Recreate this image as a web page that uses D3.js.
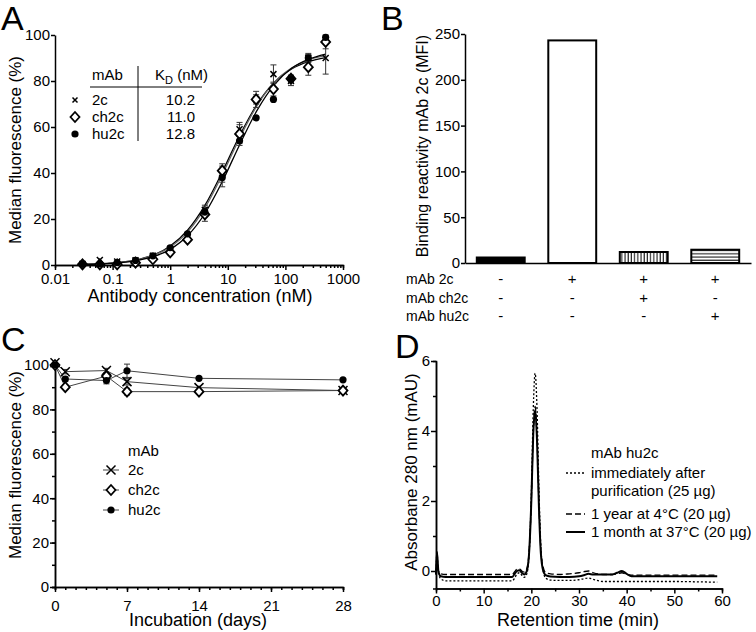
<!DOCTYPE html>
<html lang="en">
<head>
<meta charset="UTF-8">
<title>mAb 2c binding and stability</title>
<script src="https://d3js.org/d3.v7.min.js"></script>
<style>
  body { margin: 0; background: #fff; }
  svg { font-family: "Liberation Sans", Arial, sans-serif; }
  .axis path, .axis line { stroke: #000; stroke-width: 1.5; }
  .axis text { font-size: 15px; fill: #000; font-family: "Liberation Sans", Arial, sans-serif; }
</style>
</head>
<body>
<svg id="fig" width="756" height="632"></svg>
<script>
// ---- A: binding curves ----
const concA = [0.03, 0.06, 0.12, 0.25, 0.5, 1, 2, 4, 8, 16, 31, 62, 125, 250, 500];
const a2c   = [0.5, 2.2, 1.5, 2, 4, 7, 13, 24, 40, 59, 72, 83, 80, 90, 90];
const ach2c = [0.3, 0.3, 0.3, 1, 2.5, 5.5, 11, 22, 41, 57, 72, 76.5, 81, 86, 97];
const ahu2c = [0.3, 0.5, 1, 2, 4, 7.5, 13.5, 23, 38, 54, 64, 72, 81, 90, 99];
const e2c   = [0.5, 1, 0.8, 0.8, 1, 0.8, 1, 2, 4, 3, 2, 4, 2, 1.5, 7];
const ech2c = [0.3, 0.3, 0.3, 0.5, 1, 0.8, 1, 3, 2, 4, 3.5, 3, 1.5, 3.5, 3];
const ehu2c = [0.3, 0.3, 0.5, 0.5, 0.8, 0.8, 1, 2, 4, 2, 1, 1, 1.5, 2, 1];
// fitted curves
const fitConc  = [0.03, 0.1, 0.3, 1, 2, 4, 8, 16, 32, 64, 128, 256, 500];
const fit2c    = [0.3, 0.9, 2.6, 8.2, 15.1, 25.9, 40.4, 56.2, 69.8, 79.4, 85.2, 88.5, 90.2];
const fitch2c  = [0.25, 0.84, 2.5, 7.8, 14.3, 24.8, 39.2, 55.1, 69.2, 79.4, 85.6, 89.2, 91.0];
const fithu2c  = [0.22, 0.73, 2.2, 6.8, 12.7, 22.4, 36.2, 52.2, 67.1, 78.3, 85.5, 89.5, 91.7];
const tableNames = ["2c", "ch2c", "hu2c"];
const tableKd = ["10.2", "11.0", "12.8"];
const ticksA = [0.01, 0.1, 1, 10, 100, 1000];
const tickLabelsA = ["0.01", "0.1", "1", "10", "100", "1000"];

// ---- B: competition bars ----
const barValues = [6, 243, 12, 14.5];
const rowLabels = ["mAb 2c", "mAb ch2c", "mAb hu2c"];
const rowSigns = [["-", "+", "+", "+"], ["-", "-", "+", "-"], ["-", "-", "-", "+"]];

// ---- C: stability over time ----
const days  = [0, 1, 5, 7, 14, 28];
const c2c   = [101, 97, 97.5, 92.5, 89.8, 88.5];
const cch2c = [100, 90, 95, 88, 88, 88.5];
const chu2c = [100, 93.7, 93, 97.4, 94, 93.3];
const ec2c   = [0.5, 1, 1, 1.5, 0.5, 0.5];
const ecch2c = [0.5, 1, 1, 1.5, 0.5, 0.5];
const echu2c = [0.5, 1, 1.5, 3, 0.5, 0.5];

// ---- D: SEC chromatograms ----
const timeD = [0, 0.2, 0.5, 1, 2, 5, 10, 15, 16, 16.5, 17, 17.5, 18, 18.5, 19, 19.5, 20, 20.4, 20.8, 21.2, 21.6, 22, 22.5, 23, 24, 26, 28, 30, 31, 32, 33, 35, 37, 38, 39, 40, 41, 45, 50, 55, 59];
const dFresh = [-0.1, 0.5, -0.05, -0.22, -0.28, -0.28, -0.28, -0.28, -0.28, -0.2, -0.08, -0.05, -0.12, -0.18, -0.1, 0.4, 2.2, 4.6, 5.65, 4.6, 2.3, 0.7, 0.0, -0.2, -0.26, -0.27, -0.27, -0.25, -0.22, -0.2, -0.24, -0.3, -0.3, -0.3, -0.3, -0.3, -0.3, -0.3, -0.3, -0.31, -0.32];
const dYear  = [-0.05, 0.3, 0.0, -0.08, -0.1, -0.1, -0.1, -0.1, -0.1, -0.02, 0.05, 0.06, 0.0, -0.03, 0.05, 0.5, 2.0, 3.9, 4.7, 3.8, 1.9, 0.6, 0.1, -0.05, -0.08, -0.1, -0.08, -0.05, -0.02, 0.0, -0.05, -0.1, -0.1, -0.08, -0.05, -0.1, -0.12, -0.12, -0.12, -0.12, -0.12];
const dMonth = [-0.1, 0.55, 0.0, -0.15, -0.17, -0.17, -0.17, -0.17, -0.17, -0.08, 0.0, 0.02, -0.05, -0.1, -0.02, 0.45, 2.0, 3.9, 4.6, 3.7, 1.8, 0.5, 0.0, -0.12, -0.16, -0.17, -0.17, -0.15, -0.12, -0.08, -0.1, -0.1, -0.1, -0.05, 0.0, -0.08, -0.15, -0.15, -0.15, -0.15, -0.15];
const legendD = [
  { lines: ["immediately after", "purification (25 µg)"], dash: "2,2", w: 1.3 },
  { lines: ["1 year at 4°C (20 µg)"], dash: "6,3", w: 1.3 },
  { lines: ["1 month at 37°C (20 µg)"], dash: null, w: 2 }
];

const svg = d3.select("#fig");

// patterns for hatched bars
const defs = svg.append("defs");
defs.append("pattern").attr("id", "vhatch").attr("patternUnits", "userSpaceOnUse")
  .attr("width", 3.2).attr("height", 4)
  .append("line").attr("x1", 1).attr("x2", 1).attr("y1", 0).attr("y2", 4)
  .attr("stroke", "#000").attr("stroke-width", 1);
defs.append("pattern").attr("id", "hhatch").attr("patternUnits", "userSpaceOnUse")
  .attr("width", 4).attr("height", 3.2)
  .append("line").attr("x1", 0).attr("x2", 4).attr("y1", 1).attr("y2", 1)
  .attr("stroke", "#000").attr("stroke-width", 1);

function panelLabel(t, x, y) {
  svg.append("text").attr("x", x).attr("y", y).attr("font-size", 34).text(t);
}
function yTitle(t, x, y, size) {
  svg.append("text").attr("transform", `translate(${x},${y}) rotate(-90)`)
    .attr("text-anchor", "middle").attr("font-size", size).text(t);
}
function xTitle(t, x, y, size) {
  svg.append("text").attr("x", x).attr("y", y).attr("text-anchor", "middle")
    .attr("font-size", size).text(t);
}
function marker(g, type, x, y, s) {
  if (type === "cross") {
    g.append("path").attr("d", `M${x - s},${y - s}L${x + s},${y + s}M${x - s},${y + s}L${x + s},${y - s}`)
      .attr("stroke", "#000").attr("stroke-width", 1.5).attr("fill", "none");
  } else if (type === "diamond") {
    g.append("path").attr("d", `M${x},${y - 5}L${x + 4.5},${y}L${x},${y + 5}L${x - 4.5},${y}Z`)
      .attr("fill", "#fff").attr("stroke", "#000").attr("stroke-width", 1.8);
  } else {
    g.append("circle").attr("cx", x).attr("cy", y).attr("r", 3.6).attr("fill", "#000");
  }
}
function errBar(g, x, y0, y1) {
  g.append("path").attr("d", `M${x},${y0}V${y1}M${x - 3},${y0}H${x + 3}M${x - 3},${y1}H${x + 3}`)
    .attr("stroke", "#333").attr("stroke-width", 1).attr("fill", "none");
}

// ================= Panel A =================
{
  const x = d3.scaleLog().domain([0.01, 1000]).range([55, 343]);
  const y = d3.scaleLinear().domain([0, 100]).range([265, 35]);
  const minor = [];
  for (let k = -2; k < 3; k++) for (let m = 2; m < 10; m++) minor.push(m * Math.pow(10, k));
  svg.append("g").attr("class", "axis").attr("transform", "translate(0,265)")
    .call(d3.axisBottom(x).tickValues(minor).tickSize(3).tickFormat(""));
  svg.append("g").attr("class", "axis").attr("transform", "translate(0,265)")
    .call(d3.axisBottom(x).tickValues(ticksA).tickSize(5).tickPadding(3).tickSizeOuter(0)
      .tickFormat((d, i) => tickLabelsA[i]));
  svg.append("g").attr("class", "axis").attr("transform", "translate(55,0)")
    .call(d3.axisLeft(y).tickValues([0, 20, 40, 60, 80, 100]).tickSize(4).tickPadding(1).tickSizeOuter(0));

  const line = d3.line().x(d => x(d[0])).y(d => y(d[1])).curve(d3.curveMonotoneX);
  [[fit2c, "#000"], [fitch2c, "#666"], [fithu2c, "#000"]].forEach(([f, c]) => {
    svg.append("path").attr("d", line(fitConc.map((c0, i) => [c0, f[i]])))
      .attr("fill", "none").attr("stroke", c).attr("stroke-width", 1.3);
  });
  const g = svg.append("g");
  const series = [[a2c, e2c, "cross"], [ach2c, ech2c, "diamond"], [ahu2c, ehu2c, "circle"]];
  series.forEach(([v, e]) => v.forEach((d, i) => {
    if (e[i] > 1.2) errBar(g, x(concA[i]), y(d - e[i]), y(Math.min(d + e[i], 100)));
  }));
  series.forEach(([v, e, t]) => v.forEach((d, i) => marker(g, t, x(concA[i]), y(d), t === "cross" ? 3 : 0)));

  // inset table
  const tg = svg.append("g").attr("font-size", 15);
  tg.append("text").attr("x", 92).attr("y", 80).text("mAb");
  const kd = tg.append("text").attr("x", 155).attr("y", 80);
  kd.append("tspan").text("K");
  kd.append("tspan").attr("font-size", 11).attr("dy", 4).text("D");
  kd.append("tspan").attr("dy", -4).text(" (nM)");
  tg.append("line").attr("x1", 90).attr("x2", 202).attr("y1", 87).attr("y2", 87).attr("stroke", "#000");
  tg.append("line").attr("x1", 138).attr("x2", 138).attr("y1", 66).attr("y2", 141).attr("stroke", "#000");
  const types = ["cross", "diamond", "circle"];
  tableNames.forEach((n, i) => {
    const by = 105 + i * 17;
    tg.append("text").attr("x", 92).attr("y", by).text(n);
    tg.append("text").attr("x", 195).attr("y", by).attr("text-anchor", "end").text(tableKd[i]);
    marker(tg, types[i], 75, by - 5, 2.5);
  });

  panelLabel("A", 1, 30);
  yTitle("Median fluorescence (%)", 21, 150, 17);
  xTitle("Antibody concentration (nM)", 200, 302, 18);
}

// ================= Panel B =================
{
  const x = d3.scaleBand().domain(d3.range(barValues.length)).range([465, 751])
    .paddingInner(0.33).paddingOuter(0.165);
  const y = d3.scaleLinear().domain([0, 250]).range([263, 34]);
  const fills = ["#000", "#fff", "url(#vhatch)", "url(#hhatch)"];
  svg.append("g").selectAll("rect").data(barValues).join("rect")
    .attr("x", (d, i) => x(i)).attr("width", x.bandwidth())
    .attr("y", d => y(d)).attr("height", d => y(0) - y(d))
    .attr("fill", (d, i) => fills[i]).attr("stroke", "#000").attr("stroke-width", 2);
  svg.append("g").attr("class", "axis").attr("transform", "translate(465,0)")
    .call(d3.axisLeft(y).tickValues([0, 50, 100, 150, 200, 250]).tickSize(4).tickPadding(1).tickSizeOuter(0));
  svg.append("g").attr("class", "axis").attr("transform", "translate(0,263)")
    .call(d3.axisBottom(x).tickValues([]).tickSizeOuter(0));

  const rg = svg.append("g").attr("font-size", 14);
  rowLabels.forEach((r, j) => {
    const by = 284 + j * 18.5;
    rg.append("text").attr("x", 406).attr("y", by).text(r);
    rowSigns[j].forEach((s, i) => {
      rg.append("text").attr("x", x(i) + x.bandwidth() / 2).attr("y", by)
        .attr("text-anchor", "middle").attr("font-size", 15).text(s);
    });
  });

  panelLabel("B", 381, 30);
  yTitle("Binding reactivity mAb 2c (MFI)", 428, 146, 16);
}

// ================= Panel C =================
{
  const x = d3.scaleLinear().domain([0, 28]).range([55, 343]);
  const y = d3.scaleLinear().domain([0, 100]).range([587, 365]);
  svg.append("g").attr("class", "axis").attr("transform", "translate(0,587)")
    .call(d3.axisBottom(x).tickValues(d3.range(0, 29)).tickSize(3).tickFormat(""));
  svg.append("g").attr("class", "axis").attr("transform", "translate(0,587)")
    .call(d3.axisBottom(x).tickValues([0, 7, 14, 21, 28]).tickSize(5).tickPadding(8).tickSizeOuter(0));
  svg.append("g").attr("class", "axis").attr("transform", "translate(55,0)")
    .call(d3.axisLeft(y).tickValues(d3.range(0, 101, 10)).tickSize(3).tickFormat(""));
  svg.append("g").attr("class", "axis").attr("transform", "translate(55,0)")
    .call(d3.axisLeft(y).tickValues([0, 20, 40, 60, 80, 100]).tickSize(5).tickPadding(1).tickSizeOuter(0));

  const line = d3.line().x((d, i) => x(days[i])).y(d => y(d));
  const series = [[c2c, ec2c, "cross"], [cch2c, ecch2c, "diamond"], [chu2c, echu2c, "circle"]];
  const g = svg.append("g");
  series.forEach(([v]) => g.append("path").attr("d", line(v))
    .attr("fill", "none").attr("stroke", "#444").attr("stroke-width", 1));
  series.forEach(([v, e]) => v.forEach((d, i) => {
    if (e[i] > 0.9) errBar(g, x(days[i]), y(d - e[i]), y(d + e[i]));
  }));
  series.forEach(([v, e, t]) => v.forEach((d, i) => marker(g, t, x(days[i]), y(d), 4.5)));

  const lg = svg.append("g").attr("font-size", 15);
  lg.append("text").attr("x", 128).attr("y", 456).text("mAb");
  tableNames.forEach((n, i) => {
    const cy = 470 + i * 20;
    lg.append("line").attr("x1", 103).attr("x2", 119).attr("y1", cy).attr("y2", cy)
      .attr("stroke", "#444").attr("stroke-width", 1);
    marker(lg, series[i][2], 111, cy, 4.5);
    lg.append("text").attr("x", 128).attr("y", cy + 5).text(n);
  });

  panelLabel("C", 1, 351);
  yTitle("Median fluorescence (%)", 21, 465, 17);
  xTitle("Incubation (days)", 198, 626, 18);
}

// ================= Panel D =================
{
  const x = d3.scaleLinear().domain([0, 60]).range([436, 722]);
  const y = d3.scaleLinear().domain([-0.5, 6]).range([588.5, 361]);
  svg.append("g").attr("class", "axis").attr("transform", "translate(0,588.5)")
    .call(d3.axisBottom(x).tickValues(d3.range(5, 60, 10)).tickSize(3).tickFormat(""));
  svg.append("g").attr("class", "axis").attr("transform", "translate(0,588.5)")
    .call(d3.axisBottom(x).tickValues(d3.range(0, 61, 10)).tickSize(5).tickPadding(2).tickSizeOuter(0));
  svg.append("g").attr("class", "axis").attr("transform", "translate(436,0)")
    .call(d3.axisLeft(y).tickValues([1, 3, 5]).tickSize(3).tickFormat(""));
  svg.append("g").attr("class", "axis").attr("transform", "translate(436,0)")
    .call(d3.axisLeft(y).tickValues([0, 2, 4, 6]).tickSize(5).tickPadding(1).tickSizeOuter(0)
      .tickFormat(d3.format("d")));

  const line = d3.line().x((d, i) => x(timeD[i])).y(d => y(d)).curve(d3.curveMonotoneX);
  [dFresh, dYear, dMonth].forEach((v, k) => {
    svg.append("path").attr("d", line(v)).attr("fill", "none").attr("stroke", "#000")
      .attr("stroke-width", legendD[k].w).attr("stroke-dasharray", legendD[k].dash);
  });

  const lg = svg.append("g").attr("font-size", 15);
  lg.append("text").attr("x", 591).attr("y", 458).text("mAb hu2c");
  const rows = [478, 519, 537];
  legendD.forEach((e, k) => {
    const by = rows[k];
    lg.append("line").attr("x1", 566).attr("x2", 585).attr("y1", by - 5).attr("y2", by - 5)
      .attr("stroke", "#000").attr("stroke-width", e.w).attr("stroke-dasharray", e.dash);
    e.lines.forEach((t, j) => lg.append("text").attr("x", 591).attr("y", by + j * 18).text(t));
  });

  panelLabel("D", 395, 358);
  yTitle("Absorbane 280 nm (mAU)", 417, 472, 17);
  xTitle("Retention time (min)", 578, 626, 18);
}
</script>
</body>
</html>
